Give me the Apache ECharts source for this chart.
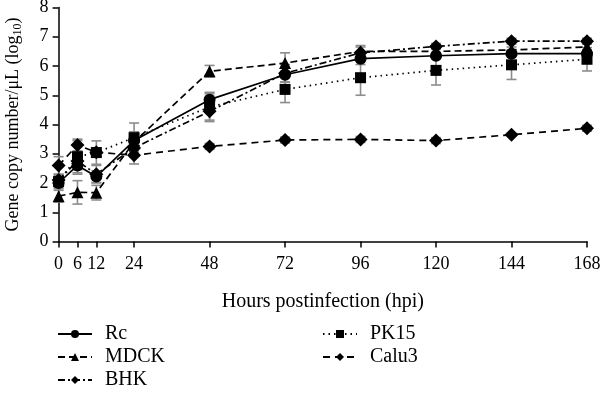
<!DOCTYPE html>
<html><head><meta charset="utf-8">
<script src="https://cdn.jsdelivr.net/npm/echarts@6/dist/echarts.min.js"></script>
<style>html,body{margin:0;padding:0;background:#fff}#c{width:600px;height:395px}</style>
</head><body><div id="c"></div>
<script>
var hours = [0, 6, 12, 24, 48, 72, 96, 120, 144, 168];
var xTicks = [0, 6, 12, 24, 48, 72, 96, 120, 144, 168];
var rc      = [2.00, 2.60, 2.22, 3.45, 4.85, 5.70, 6.25, 6.35, 6.42, 6.42];
var rcErr   = [0.20, 0.30, 0.20, 0.30, 0.20, 0.25, 0.20, 0.10, 0.10, 0.10];
var mdck    = [1.55, 1.68, 1.67, 3.40, 5.82, 6.10, 6.50, 6.50, 6.55, 6.65];
var mdckErr = [0.20, 0.40, 0.25, 0.30, 0.20, 0.35, 0.20, 0.10, 0.10, 0.10];
var bhk     = [2.10, 2.75, 2.30, 3.20, 4.45, 5.75, 6.45, 6.67, 6.85, 6.85];
var bhkErr  = [0.20, 0.30, 0.30, 0.30, 0.30, 0.30, 0.20, 0.10, 0.10, 0.10];
var pk15    = [2.05, 2.90, 3.04, 3.55, 4.60, 5.20, 5.60, 5.85, 6.04, 6.23];
var pk15Err = [0.20, 0.55, 0.40, 0.50, 0.50, 0.45, 0.60, 0.50, 0.50, 0.40];
var calu3   = [2.60, 3.30, 3.05, 2.95, 3.25, 3.47, 3.49, 3.45, 3.65, 3.87];
var calu3Err= [0.30, 0.20, 0.15, 0.30, 0.10, 0.10, 0.10, 0.10, 0.05, 0.10];

var FONT = 'Liberation Serif';
function pairs(v){ return hours.map(function(h,i){ return [h, v[i]]; }); }
function errData(v,e){ return hours.map(function(h,i){ return [h, v[i]-e[i], v[i]+e[i]]; }); }
function errSeries(v,e){
  return {type:'custom', silent:true, z:1, data: errData(v,e),
    renderItem:function(params, api){
      var x = api.value(0);
      var lo = api.coord([x, api.value(1)]);
      var hi = api.coord([x, api.value(2)]);
      var w = 5, st = {stroke:'#8c8c8c', lineWidth:1.6};
      return {type:'group', children:[
        {type:'line', shape:{x1:lo[0],y1:lo[1],x2:hi[0],y2:hi[1]}, style:st},
        {type:'line', shape:{x1:lo[0]-w,y1:lo[1],x2:lo[0]+w,y2:lo[1]}, style:st},
        {type:'line', shape:{x1:hi[0]-w,y1:hi[1],x2:hi[0]+w,y2:hi[1]}, style:st}
      ]};
    }};
}
function lineSeries(name, v, symbol, size, type){
  return {name:name, type:'line', data:pairs(v), symbol:symbol, symbolSize:size, z:3,
    itemStyle:{color:'#000'}, lineStyle:{color:'#000', width:1.7, type:type}};
}
var legendText = {fontFamily:FONT, fontSize:20, color:'#000', padding:[0,0,0,8]};
var chart = echarts.init(document.getElementById('c'));
chart.setOption({
  animation:false,
  textStyle:{fontFamily:FONT, color:'#000'},
  grid:{left:58.6, right:13, top:7.5, bottom:153.5, containLabel:false, outerBoundsMode:'none'},
  xAxis:{type:'value', min:0, max:168, interval:6,
    name:'Hours postinfection (hpi)', nameLocation:'middle', nameGap:50,
    nameTextStyle:{fontFamily:FONT, fontSize:20, color:'#000'},
    axisLine:{lineStyle:{color:'#000', width:1.5}},
    axisTick:{customValues:xTicks, length:6, lineStyle:{color:'#000', width:1.5}},
    axisLabel:{customValues:xTicks, fontFamily:FONT, fontSize:18, color:'#000', margin:14},
    splitLine:{show:false}},
  yAxis:{type:'value', min:0, max:8, interval:1,
    name:'{a|Gene copy number/μL (log}{b|10}{a|)}', nameLocation:'middle', nameGap:35,
    nameTextStyle:{rich:{a:{fontFamily:FONT, fontSize:18, color:'#000'}, b:{fontFamily:FONT, fontSize:12, color:'#000', verticalAlign:'bottom', padding:[8,0,0,0]}}},
    axisLine:{show:true, lineStyle:{color:'#000', width:1.5}},
    axisTick:{show:true, length:6, lineStyle:{color:'#000', width:1.5}},
    axisLabel:{fontFamily:FONT, fontSize:18, color:'#000', margin:10},
    splitLine:{show:false}},
  legend:[
    {data:['Rc','MDCK','BHK'], orient:'vertical', left:57, top:324, height:71, padding:0, itemWidth:34, itemHeight:10, itemGap:3,
     textStyle:legendText},
    {data:['PK15','Calu3'], orient:'vertical', left:322, top:324, height:71, padding:0, itemWidth:34, itemHeight:10, itemGap:3,
     textStyle:legendText}
  ],
  series:[
    errSeries(rc, rcErr), errSeries(mdck, mdckErr), errSeries(bhk, bhkErr), errSeries(pk15, pk15Err), errSeries(calu3, calu3Err),
    lineSeries('Rc', rc, 'circle', 12, 'solid'),
    lineSeries('MDCK', mdck, 'triangle', 12, [7,4]),
    lineSeries('BHK', bhk, 'diamond', 14, [7,3,2,3]),
    lineSeries('PK15', pk15, 'rect', 11, [1.5,4]),
    lineSeries('Calu3', calu3, 'diamond', 14, [7,5])
  ]
});
</script></body></html>
